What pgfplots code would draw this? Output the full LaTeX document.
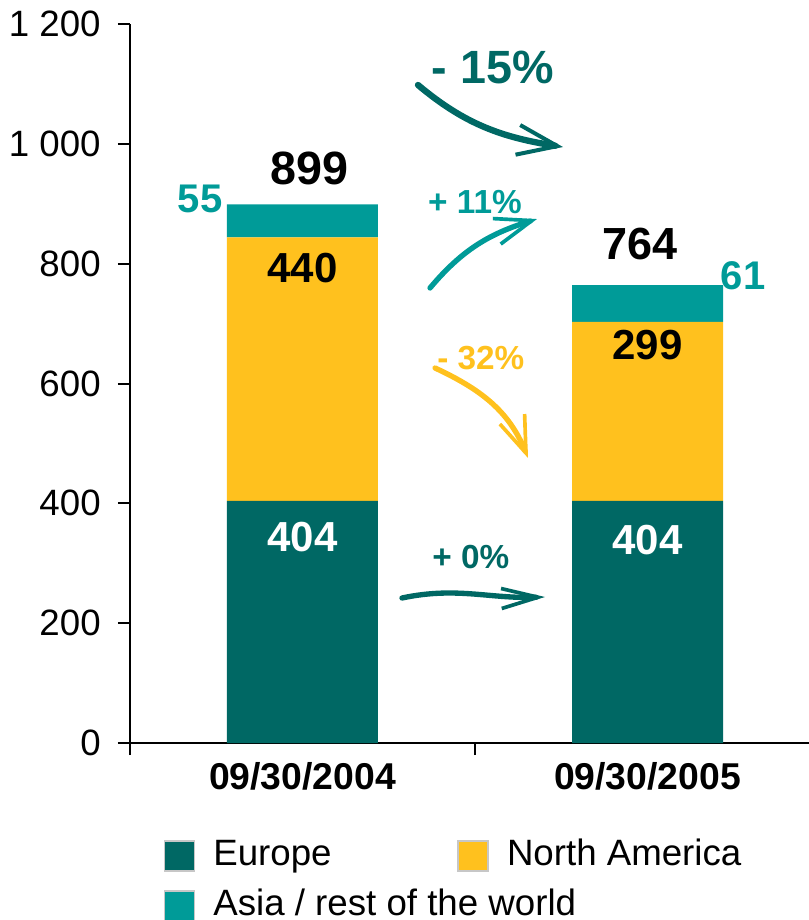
\documentclass[border=0pt]{standalone}
\usepackage{fontspec}
\setmainfont{Liberation Sans}
\usepackage{pgfplots}
\pgfplotsset{compat=1.18}
\usetikzlibrary{arrows.meta}

\definecolor{euro}{RGB}{0,104,100}
\definecolor{namer}{RGB}{255,193,30}
\definecolor{asia}{RGB}{0,155,152}

% 1 px of the reference = 0.3pt
\pgfplotsset{
  sq/.style={legend image code/.code={%
    \draw[##1,draw=black!22,line width=0.5pt] (0pt,-4.5pt) rectangle (9pt,4.5pt);}},
}

\begin{document}
\begin{tikzpicture}
\begin{axis}[
    x=103.5pt, y=0.17975pt,
    xmin=-0.5, xmax=1.468, ymin=0, ymax=1200,
    ybar stacked, bar width=45.3pt,
    clip=false,
    axis x line=bottom, axis y line=left,
    axis line style={-, line width=0.6pt},
    tick align=outside, major tick length=3.6pt,
    tick style={line width=0.6pt, black},
    ytick={0,200,...,1200},
    yticklabel style={font=\fontsize{11}{13}\selectfont, inner sep=0pt, xshift=-5pt},
    /pgf/number format/.cd, 1000 sep={\ }, assume math mode=true, /pgfplots/.cd,
    xtick={-0.5,0.5}, xticklabels={},
    extra x ticks={0,1},
    extra x tick labels={09/30/2004,\raisebox{1.4pt}{09/30/2005}},
    extra x tick style={major tick length=0pt, tick style={draw=none},
      xticklabel style={font=\fontsize{11.2}{13}\selectfont\bfseries, inner sep=0pt, yshift=-5.7pt, anchor=north}},
    legend cell align=left,
    legend columns=2,
    legend style={at={(axis cs:-0.4043,-158.7)}, anchor=north west,
      draw=none, fill=none, inner sep=0pt,
      font=\fontsize{11}{13}\selectfont,
      column sep=0pt, row sep=4.7pt,
      nodes={inner sep=0pt, text height=8pt, text depth=2.3pt},
      /tikz/every odd column/.append style={column sep=5.4pt}},
]
\addplot[fill=euro, draw=none, sq] coordinates {(0,404) (1,404)};
\addlegendentry{\makebox[73.2pt][l]{Europe}}
\addplot[fill=namer, draw=none, sq] coordinates {(0,440) (1,299)};
\addlegendentry{North America}
\addplot[fill=asia, draw=none, sq] coordinates {(0,55) (1,61)};
\addlegendentry{\makebox[73.2pt][l]{Asia / rest of the world}}

% x axis reaches a little left of the y axis
\draw[line width=0.6pt] (axis cs:-0.5348,0) -- (axis cs:-0.5,0);

% anchor points for the labels, used after the axis
\coordinate (t899) at (axis cs:0.02,959.6);
\coordinate (t55)  at (axis cs:-0.297,908);
\coordinate (t440) at (axis cs:0,792.8);
\coordinate (t404a) at (axis cs:0,343.8);
\coordinate (t764) at (axis cs:0.978,832.8);
\coordinate (t61)  at (axis cs:1.277,779.4);
\coordinate (t299) at (axis cs:1,664.2);
\coordinate (t404b) at (axis cs:1,338.8);
\coordinate (p15) at (axis cs:0.552,1128.2);
\coordinate (a15s) at (axis cs:0.3348,1098.2);
\coordinate (a15e) at (axis cs:0.7551,994.7);
\coordinate (p11) at (axis cs:0.5,902.9);
\coordinate (a11s) at (axis cs:0.3696,759.4);
\coordinate (a11e) at (axis cs:0.6797,874.5);
\coordinate (p32) at (axis cs:0.517,642.5);
\coordinate (a32s) at (axis cs:0.3841,625.9);
\coordinate (a32e) at (axis cs:0.6536,475.7);
\coordinate (p0) at (axis cs:0.488,310.4);
\coordinate (a0s) at (axis cs:0.2884,242.0);
\coordinate (a0e) at (axis cs:0.7029,243.7);
% page corners as in the reference
\coordinate (bbsw) at (axis cs:-0.8768,-295.4);
\coordinate (bbne) at (axis cs:1.468,1240.05);
\end{axis}

% value labels
\node[font=\fontsize{14}{16}\selectfont\bfseries, inner sep=0pt] at (t899) {899};
\node[font=\fontsize{12}{14}\selectfont\bfseries, text=asia, inner sep=0pt] at (t55) {55};
\node[font=\fontsize{12.6}{14}\selectfont\bfseries, inner sep=0pt] at (t440) {440};
\node[font=\fontsize{12.6}{14}\selectfont\bfseries, text=white, inner sep=0pt] at (t404a) {404};
\node[font=\fontsize{13.5}{16}\selectfont\bfseries, inner sep=0pt] at (t764) {764};
\node[font=\fontsize{12}{14}\selectfont\bfseries, text=asia, inner sep=0pt] at (t61) {61};
\node[font=\fontsize{12.6}{14}\selectfont\bfseries, inner sep=0pt] at (t299) {299};
\node[font=\fontsize{12.6}{14}\selectfont\bfseries, text=white, inner sep=0pt] at (t404b) {404};

% change labels and arrows
\node[font=\fontsize{14}{16}\selectfont\bfseries, text=euro, inner sep=0pt] at (p15) {- 15\%};
\draw[euro, line width=1.9pt, line cap=round, -{Straight Barb[length=12pt,width=9pt,line width=1.2pt]}]
  (a15s) to[out=-40,in=171] (a15e);
\node[font=\fontsize{10}{12}\selectfont\bfseries, text=asia, inner sep=0pt] at (p11) {+ 11\%};
\draw[asia, line width=1.6pt, line cap=round, -{Straight Barb[length=11pt,width=8pt,line width=1.1pt]}]
  (a11s) to[out=50,in=-163] (a11e);
\node[font=\fontsize{10}{12}\selectfont\bfseries, text=namer, inner sep=0pt] at (p32) {- 32\%};
\draw[namer, line width=1.6pt, line cap=round, -{Straight Barb[length=11pt,width=8pt,line width=1.1pt]}]
  (a32s) to[out=-25,in=112] (a32e);
\node[font=\fontsize{10}{12}\selectfont\bfseries, text=euro, inner sep=0pt] at (p0) {+ 0\%};
\draw[euro, line width=1.6pt, line cap=round, -{Straight Barb[length=11pt,width=6pt,line width=1.1pt]}]
  (a0s) to[out=12,in=-178] (a0e);

\pgfresetboundingbox
\path[use as bounding box] (bbsw) rectangle (bbne);
\end{tikzpicture}
\end{document}
